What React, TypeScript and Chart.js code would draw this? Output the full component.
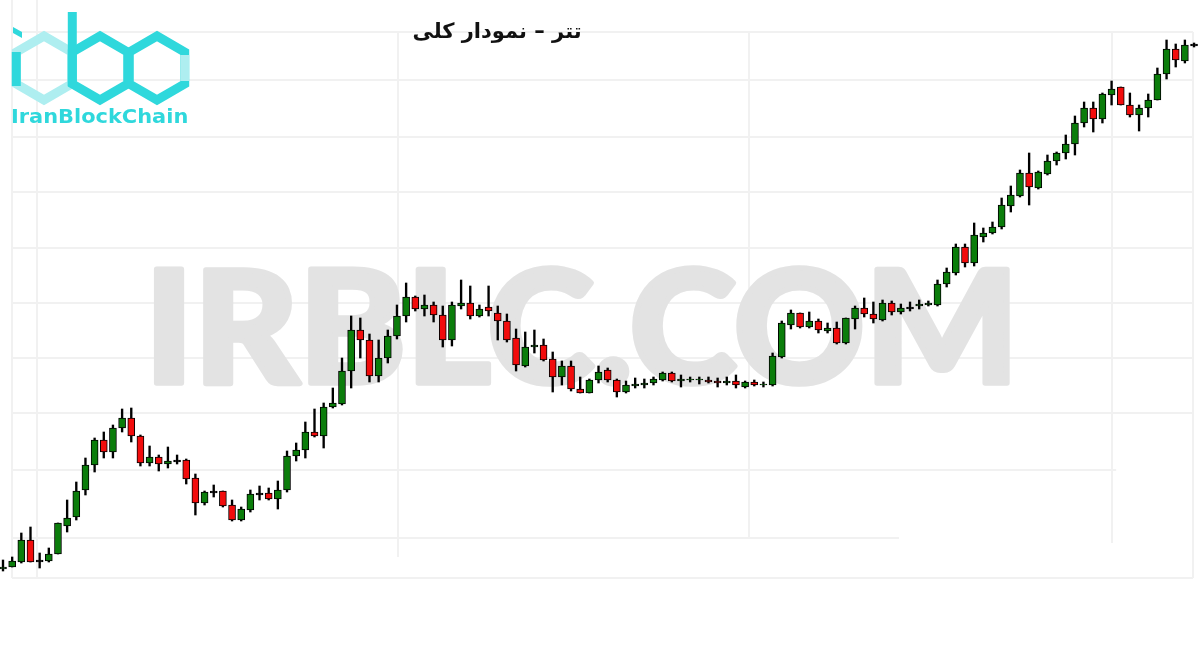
import { useEffect, useRef } from "react";
import { Chart, registerables } from "chart.js";

Chart.register(...registerables);

const TITLE = "تتر – نمودار کلی";
const WATERMARK = "IRBLC.COM";
const LOGO_TEXT = "IranBlockChain";

const GREEN = "#0b7d0b";
const RED = "#f20c0c";

// OHLC values (relative price units)
const opens = [
  31, 33, 38, 60, 39, 39, 46, 74, 83, 110, 135, 160, 148, 172, 182, 164, 137, 143, 136, 139,
  140, 122, 97, 108, 109, 95, 80, 90, 106, 107, 101, 110, 144, 150, 168, 164, 193, 196, 229, 270,
  260, 224, 242, 264, 284, 303, 291, 295, 285, 260, 294, 297, 284, 293, 287, 279, 262, 234, 253, 255,
  241, 223, 234, 211, 207, 220, 230, 220, 208, 214, 215, 217, 220, 227, 219, 220, 220, 220, 219, 217,
  219, 213, 218, 215, 215, 243, 275, 287, 273, 279, 269, 272, 257, 281, 292, 286, 280, 297, 288, 292,
  294, 295, 295, 316, 327, 353, 337, 363, 367, 373, 394, 404, 427, 412, 426, 439, 447, 456, 477, 492,
  481, 505, 513, 495, 485, 492, 500, 526, 551, 539, 555,
];
const highs = [
  40, 43, 67, 73, 47, 52, 77, 100, 118, 142, 162, 168, 175, 191, 192, 165, 154, 145, 153, 145,
  141, 126, 109, 115, 109, 100, 93, 110, 114, 112, 119, 149, 157, 178, 191, 197, 212, 242, 284, 282,
  266, 260, 270, 295, 317, 304, 305, 298, 294, 298, 320, 314, 295, 314, 294, 286, 271, 268, 270, 261,
  248, 239, 239, 223, 221, 234, 232, 221, 219, 222, 221, 223, 228, 228, 225, 223, 223, 223, 222, 223,
  225, 219, 220, 218, 247, 279, 290, 287, 288, 281, 277, 278, 282, 294, 302, 298, 300, 299, 296, 298,
  300, 299, 320, 332, 356, 356, 377, 372, 378, 402, 414, 430, 447, 429, 445, 448, 465, 484, 498, 498,
  507, 519, 513, 507, 495, 506, 532, 560, 556, 560, 557,
];
const lows = [
  29, 33, 37, 38, 32, 38, 46, 68, 80, 105, 128, 142, 142, 168, 158, 134, 134, 129, 132, 136,
  116, 85, 95, 103, 93, 79, 79, 88, 100, 100, 91, 108, 139, 142, 163, 152, 192, 195, 212, 242,
  218, 218, 237, 261, 278, 289, 284, 278, 253, 254, 291, 281, 283, 284, 260, 258, 229, 233, 247, 239,
  208, 215, 209, 207, 207, 217, 218, 203, 207, 212, 212, 215, 219, 218, 213, 218, 216, 217, 213, 215,
  212, 212, 214, 213, 214, 242, 271, 272, 272, 267, 267, 256, 256, 271, 283, 277, 279, 285, 286, 289,
  291, 294, 294, 313, 325, 333, 334, 358, 366, 371, 388, 403, 395, 411, 425, 435, 441, 445, 473, 468,
  477, 495, 495, 483, 469, 483, 500, 521, 533, 537, 553,
];
const closes = [
  33, 39, 60, 38, 39, 46, 77, 82, 109, 135, 160, 148, 172, 182, 164, 137, 143, 136, 139, 139,
  121, 97, 108, 108, 94, 80, 91, 106, 106, 101, 110, 144, 150, 168, 164, 193, 197, 229, 270, 260,
  224, 242, 264, 284, 303, 291, 295, 285, 260, 295, 297, 284, 291, 289, 279, 260, 235, 253, 255, 240,
  223, 234, 211, 207, 220, 228, 220, 208, 215, 216, 217, 221, 227, 219, 221, 221, 221, 218, 217, 219,
  215, 218, 215, 216, 244, 277, 287, 273, 279, 270, 272, 257, 282, 292, 286, 281, 297, 288, 292, 292,
  296, 297, 316, 328, 353, 337, 365, 367, 373, 395, 405, 427, 413, 428, 439, 447, 456, 477, 492, 481,
  506, 511, 495, 485, 492, 500, 526, 551, 540, 555, 555,
];

// light background grid (value positions)
const gridRows = [568, 520, 463, 408, 352, 297, 242, 187, 130, 62, 22];
const gridRowEnds = [129.89, 129.89, 129.89, 129.89, 129.89, 129.89, 129.89, 129.89, 121.5, 97.8, 129.89];
const gridCols = [0.98, 3.71, 43.12, 81.43, 121.05, 129.89];
const gridColTops = [650, 650, 568, 568, 568, 568];
const gridColBottoms = [22, 22, 43, 63, 57, 22];

const X_MIN = -0.3275;
const X_MAX = 130.65;
const Y_MIN = -50;
const Y_MAX = 600;

function hexPath(ctx: CanvasRenderingContext2D, cx: number, cy: number, r: number) {
  ctx.beginPath();
  for (let k = 0; k < 6; k++) {
    const a = (-90 + 60 * k) * Math.PI / 180;
    const px = cx + r * Math.cos(a);
    const py = cy + r * Math.sin(a);
    if (k === 0) ctx.moveTo(px, py);
    else ctx.lineTo(px, py);
  }
  ctx.closePath();
}

const decor = {
  id: "decor",
  beforeDatasetsDraw(chart: any) {
    const { ctx, scales } = chart;
    const x = scales.x;
    const y = scales.y;
    ctx.save();
    ctx.fillStyle = "#ffffff";
    ctx.fillRect(0, 0, chart.width, chart.height);

    // grid
    ctx.strokeStyle = "#f1f1f1";
    ctx.lineWidth = 2;
    gridRows.forEach((v, k) => {
      const py = Math.round(y.getPixelForValue(v));
      ctx.beginPath();
      ctx.moveTo(x.getPixelForValue(gridCols[0]), py);
      ctx.lineTo(x.getPixelForValue(gridRowEnds[k]), py);
      ctx.stroke();
    });
    gridCols.forEach((v, k) => {
      const px = Math.round(x.getPixelForValue(v));
      ctx.beginPath();
      ctx.moveTo(px, y.getPixelForValue(gridColTops[k]));
      ctx.lineTo(px, y.getPixelForValue(gridColBottoms[k]));
      ctx.stroke();
    });

    // watermark
    ctx.font = '900 170px Lato, "DejaVu Sans", sans-serif';
    ctx.textAlign = "left";
    ctx.textBaseline = "alphabetic";
    const m = ctx.measureText(WATERMARK);
    const w = m.actualBoundingBoxLeft + m.actualBoundingBoxRight;
    const h = m.actualBoundingBoxAscent;
    const sw = 6;
    ctx.save();
    ctx.translate(153 + sw / 2, 386 - sw / 2);
    ctx.scale((857 - sw) / w, (121 - sw) / h);
    ctx.fillStyle = "#e3e3e3";
    ctx.strokeStyle = "#e3e3e3";
    ctx.lineWidth = sw;
    ctx.lineJoin = "round";
    ctx.fillText(WATERMARK, m.actualBoundingBoxLeft, 0);
    ctx.strokeText(WATERMARK, m.actualBoundingBoxLeft, 0);
    ctx.restore();
    ctx.restore();
  },
  afterDraw(chart: any) {
    const { ctx } = chart;
    ctx.save();
    // logo hexagons
    const dark = "#2fd8dc";
    const light = "#aeeef0";
    ctx.lineJoin = "miter";
    ctx.lineWidth = 9;
    ctx.strokeStyle = light;
    hexPath(ctx, 44, 68, 32);
    ctx.stroke();
    ctx.strokeStyle = dark;
    hexPath(ctx, 100, 68, 32);
    ctx.stroke();
    hexPath(ctx, 157, 68, 32);
    ctx.stroke();
    const c30 = Math.cos(Math.PI / 6) * 32;
    // light right side of last hexagon
    ctx.fillStyle = light;
    ctx.fillRect(157 + c30 - 4.5, 68 - 13, 9, 26);
    // i stem & dot, b stem
    ctx.fillStyle = dark;
    ctx.fillRect(44 - c30 - 4.5, 52, 9, 34);
    ctx.beginPath();
    ctx.moveTo(13, 27);
    ctx.lineTo(22, 32);
    ctx.lineTo(22, 38);
    ctx.lineTo(13, 33);
    ctx.closePath();
    ctx.fill();
    ctx.fillRect(100 - c30 - 4.5, 12, 9, 74);

    // logo text
    ctx.font = 'bold 20px "DejaVu Sans", sans-serif';
    ctx.textAlign = "left";
    ctx.textBaseline = "alphabetic";
    const lm = ctx.measureText(LOGO_TEXT);
    const lw = lm.actualBoundingBoxLeft + lm.actualBoundingBoxRight;
    ctx.save();
    ctx.translate(12, 123);
    ctx.scale(175 / lw, 1);
    ctx.fillStyle = dark;
    ctx.fillText(LOGO_TEXT, lm.actualBoundingBoxLeft, 0);
    ctx.restore();

    // title
    ctx.font = 'bold 21px "DejaVu Sans", sans-serif';
    ctx.direction = "rtl";
    ctx.textAlign = "center";
    ctx.textBaseline = "middle";
    ctx.fillStyle = "#111111";
    ctx.fillText(TITLE, 497, 33);
    ctx.restore();
  },
};

export default function App() {
  const ref = useRef<HTMLCanvasElement>(null);
  useEffect(() => {
    const idx = opens.map((_, i) => i);
    const bodies = idx.map((i) => {
      const o = opens[i];
      const c = closes[i];
      if (o === c) return { x: i, y: [o - 0.8, o + 0.8] };
      return { x: i, y: [Math.min(o, c), Math.max(o, c)] };
    });
    const wicks = idx.map((i) => ({ x: i, y: [lows[i], highs[i]] }));
    const bodyColors = idx.map((i) =>
      closes[i] > opens[i] ? GREEN : closes[i] < opens[i] ? RED : "#000000"
    );
    const chart = new Chart(ref.current as HTMLCanvasElement, {
      type: "bar",
      data: {
        datasets: [
          {
            data: bodies as any,
            backgroundColor: bodyColors,
            borderColor: "#000000",
            borderWidth: 1,
            borderSkipped: false,
            barThickness: 7,
            grouped: false,
            order: 1,
          } as any,
          {
            data: wicks as any,
            backgroundColor: "#000000",
            borderWidth: 0,
            barThickness: 1.7,
            grouped: false,
            order: 2,
          } as any,
        ],
      },
      options: {
        animation: false,
        responsive: false,
        events: [],
        layout: { padding: 0 },
        plugins: {
          legend: { display: false },
          tooltip: { enabled: false },
          title: { display: false },
        },
        scales: {
          x: { type: "linear", min: X_MIN, max: X_MAX, offset: false, display: false },
          y: { type: "linear", min: Y_MIN, max: Y_MAX, display: false },
        },
      },
      plugins: [decor as any],
    });
    return () => chart.destroy();
  }, []);
  return (
    <div style={{ position: "fixed", left: 0, top: 0, width: 1200, height: 650, background: "#fff" }}>
      <canvas ref={ref} width={1200} height={650} style={{ width: 1200, height: 650, display: "block" }} />
    </div>
  );
}
